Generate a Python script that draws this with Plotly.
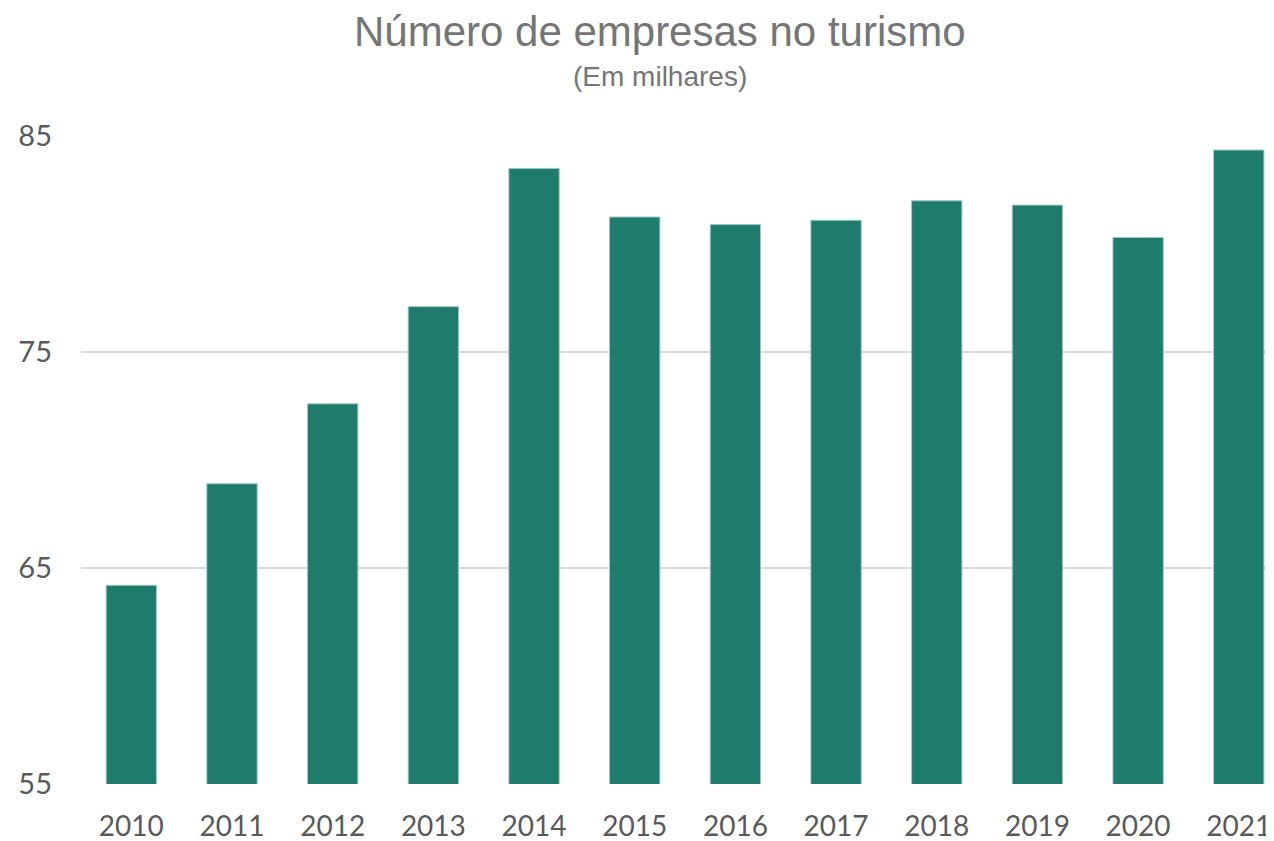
import plotly.graph_objects as go

years = ["2010", "2011", "2012", "2013", "2014", "2015", "2016", "2017", "2018", "2019", "2020", "2021"]
empresas = [64.2, 68.9, 72.6, 77.1, 83.5, 81.25, 80.9, 81.1, 82.0, 81.8, 80.3, 84.35]
y_ticks = [55, 65, 75, 85]

W, H = 1266, 833
L, T, B, R = 73, 128, 57, 0
pw, ph = W - L - R, H - T - B

fig = go.Figure()
fig.add_trace(go.Bar(
    x=list(range(len(years))), y=empresas,
    marker=dict(color="#1F7B6C", line=dict(color="#9cc9c0", width=1)),
    width=0.5,
))

def px_x(x):
    return (x - L) / pw

def px_y(y):
    return (H - B - y) / ph

fig.update_layout(
    width=W, height=H,
    margin=dict(l=L, r=R, t=T, b=B),
    paper_bgcolor="white", plot_bgcolor="white",
    showlegend=False,
    annotations=[
        dict(text="Número de empresas no turismo", x=px_x(652), y=px_y(24), xref="paper", yref="paper",
             xanchor="center", yanchor="middle", showarrow=False,
             font=dict(family="Liberation Sans", size=42, color="#757575")),
        dict(text="(Em milhares)", x=px_x(652), y=px_y(69), xref="paper", yref="paper",
             xanchor="center", yanchor="middle", showarrow=False,
             font=dict(family="Liberation Sans", size=28, color="#757575")),
    ],
)

fig.update_xaxes(
    tickmode="array", tickvals=list(range(len(years))), ticktext=years,
    range=[-0.5, 11.35], showgrid=False, zeroline=False, automargin=False,
    showline=False, ticks="", ticklabelstandoff=23,
    tickfont=dict(family="Lato", size=28, color="#595959"),
)
fig.update_yaxes(
    range=[55, 85], tickvals=y_ticks, showgrid=True, gridcolor="#d9d9d9", gridwidth=2,
    zeroline=False, showline=False, ticks="", ticklabelstandoff=28, automargin=False,
    tickfont=dict(family="Lato", size=29, color="#595959"),
)

fig.write_html("out.html")
